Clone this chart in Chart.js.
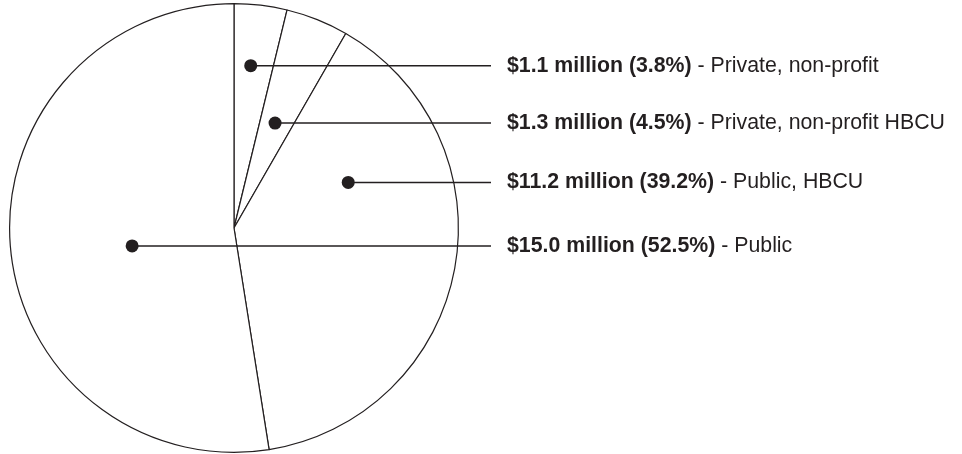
<!DOCTYPE html>
<html>
<head>
<meta charset="utf-8">
<style>
  html, body { margin: 0; padding: 0; background: #fff; }
  #wrap { width: 962px; height: 454px; }
</style>
<script src="https://cdn.jsdelivr.net/npm/chart.js@4.4.1/dist/chart.umd.min.js"></script>
</head>
<body>
<div id="wrap"><canvas id="fundingChart" width="962" height="454"></canvas></div>
<script>
const categories = ['Private, non-profit', 'Private, non-profit HBCU', 'Public, HBCU', 'Public'];
const amounts = ['$1.1 million', '$1.3 million', '$11.2 million', '$15.0 million'];
const shares = [3.8, 4.5, 39.2, 52.5];

// where each dot sits inside its slice: fraction along the arc, fraction of radius
const dotPlace = [[0.43, 0.727], [0.475, 0.502], [0.272, 0.548], [0.471, 0.461]];

const leaderLabels = {
    id: 'leaderLabels',
    afterDatasetsDraw(chart) {
        const c = chart.ctx;
        const arcs = chart.getDatasetMeta(0).data;
        c.save();
        arcs.forEach((arc, i) => {
            const p = arc.getProps(['x', 'y', 'startAngle', 'endAngle', 'outerRadius'], true);
            const a = p.startAngle + (p.endAngle - p.startAngle) * dotPlace[i][0];
            const r = p.outerRadius * dotPlace[i][1];
            const dx = p.x + Math.cos(a) * r;
            const dy = p.y + Math.sin(a) * r;

            c.strokeStyle = '#231f20';
            c.lineWidth = 1.5;
            c.beginPath();
            c.moveTo(dx, dy);
            c.lineTo(491, dy);
            c.stroke();

            c.fillStyle = '#231f20';
            c.beginPath();
            c.arc(dx, dy, 6.5, 0, Math.PI * 2);
            c.fill();

            const bold = `${amounts[i]} (${shares[i]}%)`;
            c.textBaseline = 'middle';
            c.font = "bold 21.3px 'Liberation Sans', Arial, sans-serif";
            c.fillText(bold, 507, dy);
            const w = c.measureText(bold).width;
            c.font = "21.3px 'Liberation Sans', Arial, sans-serif";
            c.fillText(' - ' + categories[i], 507 + w, dy);
        });
        c.restore();
    }
};

const ctx = document.getElementById('fundingChart').getContext('2d');
const fundingChart = new Chart(ctx, {
    type: 'pie',
    data: {
        labels: categories,
        datasets: [{
            data: shares,
            backgroundColor: '#ffffff',
            borderColor: '#231f20',
            borderWidth: 1.2,
            borderAlign: 'center'
        }]
    },
    options: {
        responsive: false,
        animation: false,
        layout: {
            padding: { left: 9, top: 3, right: 503, bottom: 1 }
        },
        plugins: {
            legend: { display: false },
            tooltip: { enabled: false }
        }
    },
    plugins: [leaderLabels]
});
</script>
</body>
</html>
